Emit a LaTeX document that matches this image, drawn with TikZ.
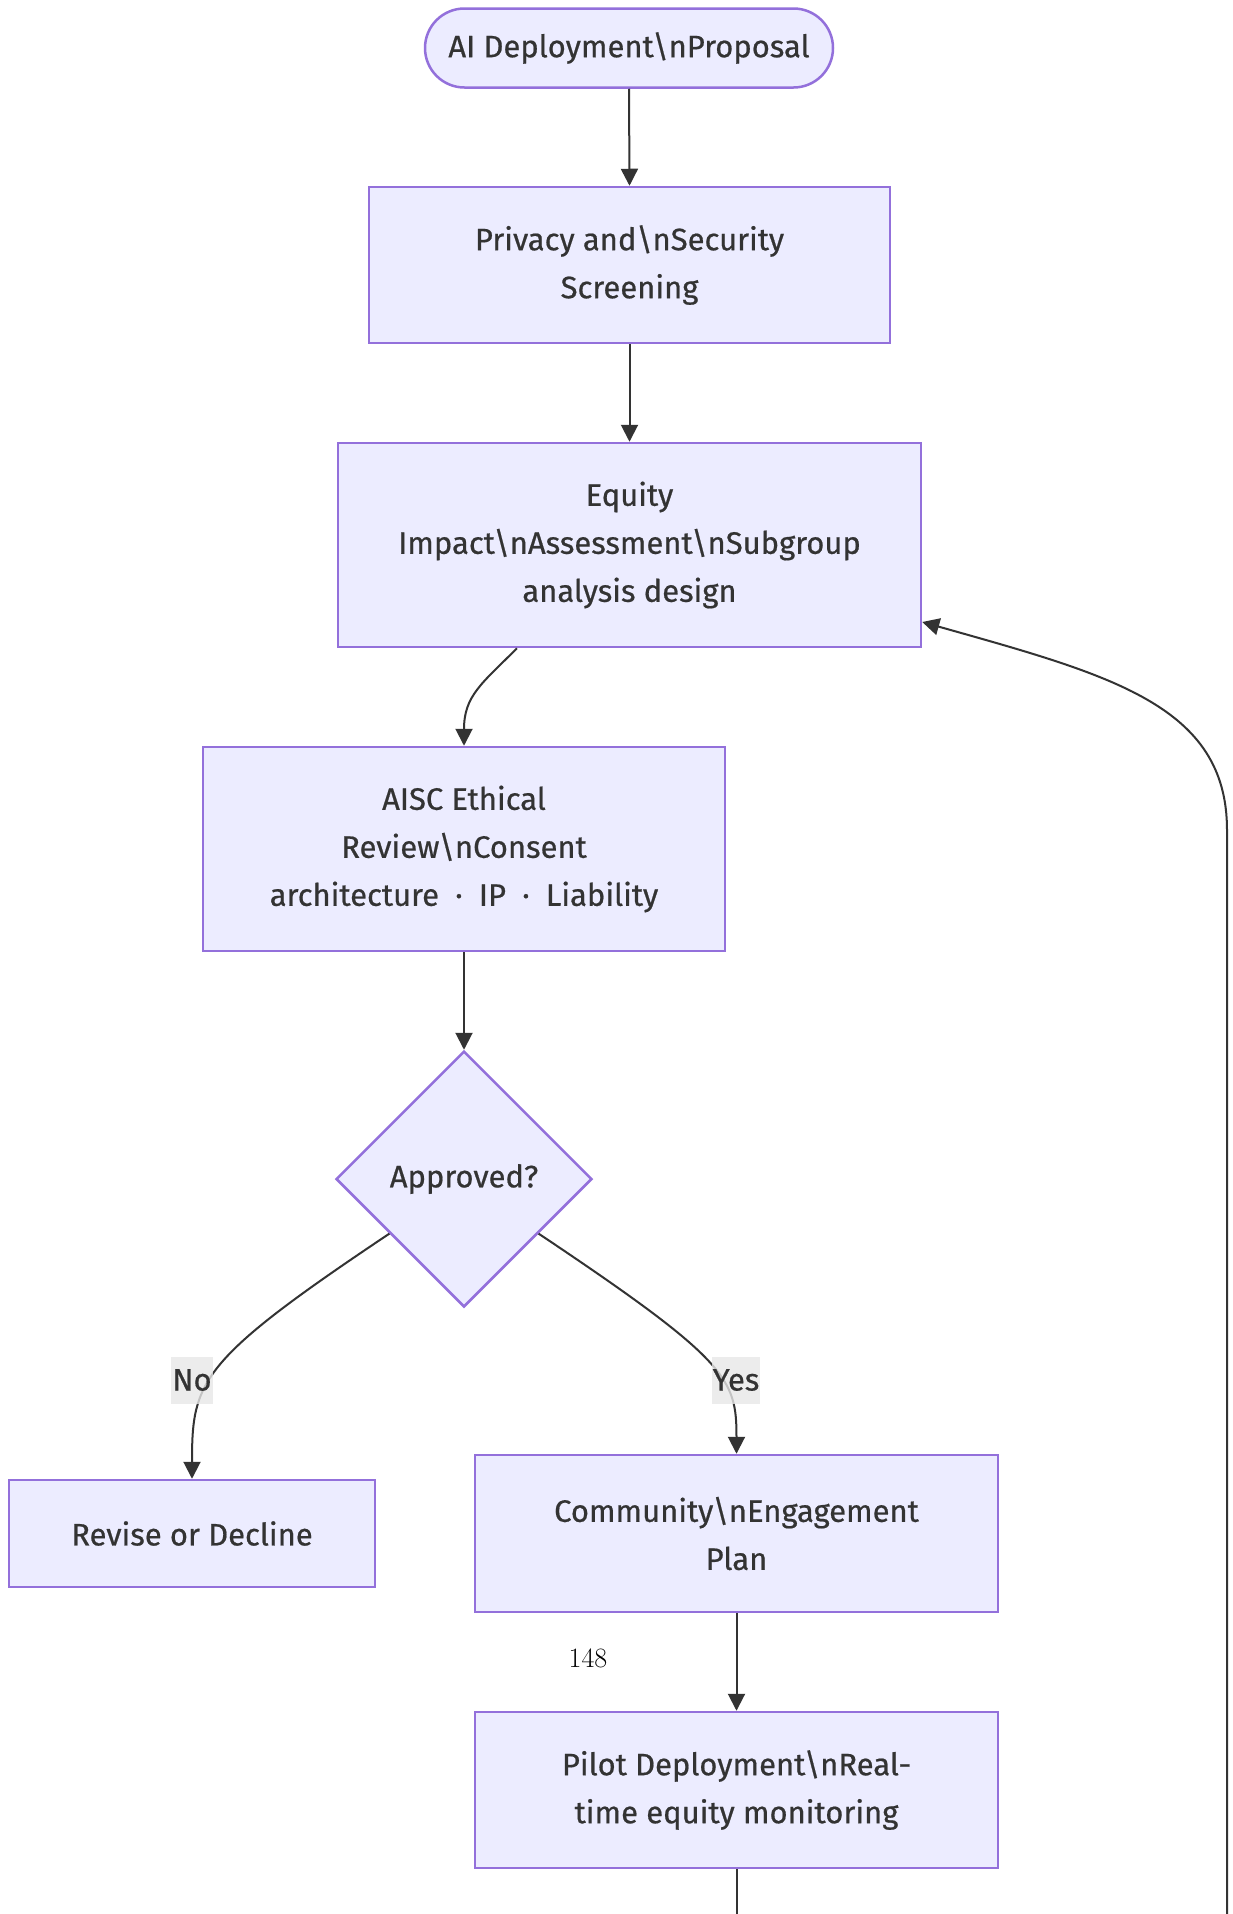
\documentclass[tikz,border=0pt]{standalone}
\usepackage{fontspec}
\usetikzlibrary{shapes.geometric,arrows.meta}
\newfontfamily\nodefont[FakeBold=0.6]{Fira Sans}
\definecolor{nfill}{HTML}{ECECFF}
\definecolor{nborder}{HTML}{9370DB}
\definecolor{ink}{HTML}{333333}
\definecolor{lblbg}{HTML}{E8E8E8}
\newcommand{\mdot}{\hspace{8pt}·\hspace{8pt}}
\begin{document}
\begin{tikzpicture}[x=1pt,y=-1pt,
  box/.style={draw=nborder, fill=nfill, line width=2.5pt, text=ink,
    font=\nodefont\fontsize{31}{48}\selectfont, align=center, inner sep=0pt},
  edge/.style={draw=ink, line width=2pt, -{Triangle[length=17pt,width=17pt]}},
  plainline/.style={draw=ink, line width=2pt},
  lbl/.style={fill=lblbg, text=ink, font=\nodefont\fontsize{31}{36}\selectfont,
    inner xsep=1pt, inner ysep=0pt, minimum height=47pt}]
\useasboundingbox[fill=white] (0,0) rectangle (1232,1914);

\node[box, rounded corners=39.5pt, minimum width=408pt, minimum height=79pt] (start) at (629,48) {\raisebox{-2pt}{AI Deployment\textbackslash nProposal}};
\node[box, minimum width=521pt, minimum height=156pt] (priv) at (629.5,265) {Privacy and\textbackslash nSecurity\\Screening};
\node[box, minimum width=583pt, minimum height=204pt] (eq) at (629.5,545) {Equity\\Impact\textbackslash nAssessment\textbackslash nSubgroup\\analysis design};
\node[box, minimum width=522pt, minimum height=204pt] (aisc) at (464,849) {AISC Ethical\\Review\textbackslash nConsent\\architecture \mdot{} IP \mdot{} Liability};
\node[box, diamond, minimum width=256pt, minimum height=256pt] (dec) at (464,1179) {\raisebox{-2pt}{Approved?}};
\node[box, minimum width=366pt, minimum height=107pt] (rev) at (192,1533.5) {\raisebox{-2pt}{Revise or Decline}};
\node[box, minimum width=523pt, minimum height=157pt] (comm) at (736.5,1533.5) {Community\textbackslash nEngagement\\Plan};
\node[box, minimum width=523pt, minimum height=156pt] (pilot) at (736.5,1790) {Pilot Deployment\textbackslash nReal-\\time equity monitoring};

\coordinate (pend) at (736.5,1914);
\coordinate (loopstart) at (1227,1914);
\coordinate (loopturn) at (1227,830);

\draw[edge] (start.south) -- (priv.north);
\draw[edge] (priv.south) -- (eq.north);
\draw[edge] ([xshift=-112.5pt]eq.south) .. controls +(-35,35) and +(0,-50) .. (aisc.north);
\draw[edge] (aisc.south) -- (dec.north);
\draw[edge] ([shift={(-10,-10)}]dec.south west) .. controls +(-190,127) and +(0,-98) .. (rev.north);
\draw[edge] ([shift={(10,-10)}]dec.south east) .. controls +(190,127) and +(0,-75) .. (comm.north);
\draw[edge] (comm.south) -- (pilot.north);
\draw[plainline] (pilot.south) -- (pend);
\draw[edge] (loopstart) -- (loopturn) .. controls (1227,705) and (1110,675) .. ([yshift=-77pt]eq.east);

\node[lbl, fill opacity=0.8, text opacity=1] (lno) at (192,1380) {No};
\node[lbl, fill opacity=0.8, text opacity=1] (lyes) at (736,1380) {Yes};

\node[font=\fontsize{28}{30}\selectfont, text=black] (pg) at (588,1658) {148};
\end{tikzpicture}
\end{document}
